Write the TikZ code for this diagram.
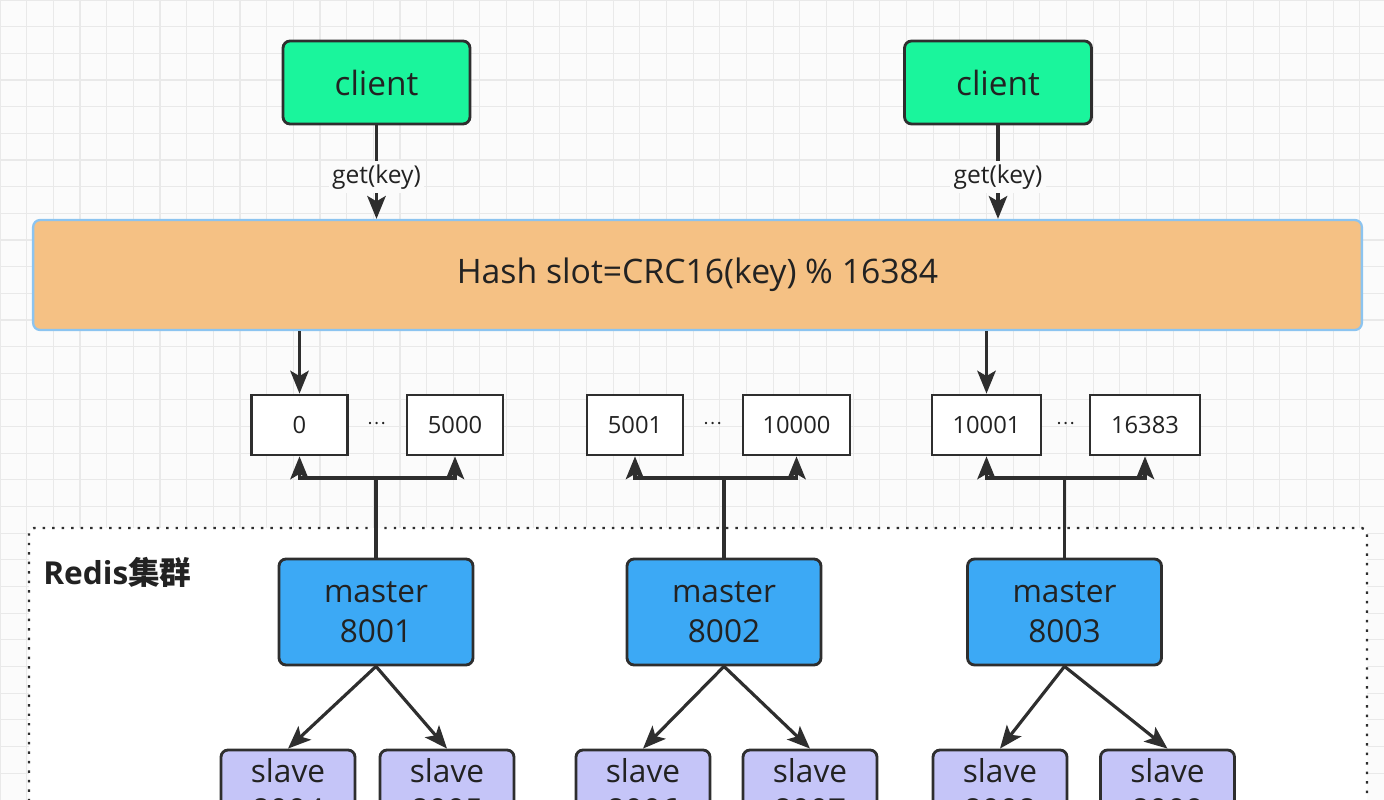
\documentclass[tikz,border=0pt]{standalone}
\usepackage{fontspec}
\setmainfont{Open Sans}
\newfontfamily\cjk{Noto Sans CJK SC}
\usetikzlibrary{arrows.meta}

\definecolor{gridgray}{HTML}{E9E9E9}
\definecolor{paper}{HTML}{FBFBFB}
\definecolor{linedark}{HTML}{2E2E2E}
\definecolor{textdark}{HTML}{222222}
\definecolor{clientgreen}{HTML}{1AF59C}
\definecolor{hashorange}{HTML}{F5C184}
\definecolor{hashborder}{HTML}{8CC4F0}
\definecolor{masterblue}{HTML}{3CA9F5}
\definecolor{slavelilac}{HTML}{C5C5F8}

\tikzset{
  box/.style={draw=linedark, line width=1.6pt, rounded corners=4pt, text=textdark, inner sep=0pt, align=center},
  clientbox/.style={box, fill=clientgreen, minimum width=3.74cm, minimum height=1.66cm, font=\fontsize{19}{23}\selectfont},
  hashbox/.style={box, draw=hashborder, line width=1.3pt, fill=hashorange, minimum width=26.58cm, minimum height=2.2cm, font=\fontsize{19.2}{23}\selectfont},
  slotbox/.style={box, rounded corners=0pt, fill=white, minimum width=1.92cm, minimum height=1.2cm, font=\fontsize{13.5}{16}\selectfont},
  masterbox/.style={box, fill=masterblue, minimum width=3.88cm, minimum height=2.12cm, font=\fontsize{18}{22.5}\selectfont},
  slavebox/.style={box, fill=slavelilac, minimum width=2.68cm, minimum height=1.6cm, font=\fontsize{18}{22.5}\selectfont},
  getlabel/.style={fill=paper, text=textdark, inner sep=2pt, pos=0.55, font=\fontsize{14}{16}\selectfont},
  dotslabel/.style={text=textdark, font=\fontsize{10}{12}\selectfont},
  arr/.style={-{Stealth[length=13pt, width=10.5pt, inset=3pt]}, line width=1.8pt, draw=linedark},
  link/.style={line width=1.8pt, draw=linedark}
}

\begin{document}
\begin{tikzpicture}[x=0.02cm, y=-0.02cm]
  \clip (0,0) rectangle (1384,800);
  \fill[paper] (0,0) rectangle (1384,800);
  \begin{scope}[x=1cm, y=1cm]
    \draw[gridgray, line width=0.6pt, step=0.5334cm] (0,-16) grid (27.68,0);
  \end{scope}

  % cluster frame
  \draw[fill=white, draw=linedark, line width=1.4pt, dash pattern=on 1.4pt off 4pt, rounded corners=3pt] (29,528) rectangle (1367,860);
  \node[anchor=west, text=textdark, inner sep=0pt, font=\fontsize{18}{21}\selectfont\bfseries] (cluster) at (43,572) {Redis{\cjk 集群}};

  % clients and hash
  \node[clientbox] (clientA) at (376.5,82.5) {client};
  \node[clientbox] (clientB) at (998,82.5) {client};
  \node[hashbox] (hash) at (697.5,275) {Hash slot=CRC16(key) \% 16384};

  \draw[arr] (clientA.south) -- node[getlabel] {get(key)} (clientA.south |- hash.north);
  \draw[arr] (clientB.south) -- node[getlabel] {get(key)} (clientB.south |- hash.north);

  % slot ranges
  \node[slotbox] (slotA) at (299.5,425) {0};
  \node[slotbox] (slotB) at (455,425) {5000};
  \node[slotbox] (slotC) at (635,425) {5001};
  \node[slotbox, minimum width=2.14cm] (slotD) at (796.5,425) {10000};
  \node[slotbox, minimum width=2.18cm] (slotE) at (986.5,425) {10001};
  \node[slotbox, minimum width=2.2cm] (slotF) at (1145,425) {16383};
  \node[dotslabel] (dotsA) at (377,424) {\cjk …};
  \node[dotslabel] (dotsB) at (713,424) {\cjk …};
  \node[dotslabel] (dotsC) at (1065.5,424) {\cjk …};

  \draw[arr] (slotA.north |- hash.south) -- (slotA.north);
  \draw[arr] (slotE.north |- hash.south) -- (slotE.north);

  % masters
  \node[masterbox] (masterA) at (376,612) {master\\8001};
  \node[masterbox] (masterB) at (724,612) {master\\8002};
  \node[masterbox] (masterC) at (1064.5,612) {master\\8003};

  \coordinate (forkA) at (376,478);
  \coordinate (forkB) at (724,478);
  \coordinate (forkC) at (1064.5,478);
  \draw[link] (masterA.north) -- (forkA);
  \draw[arr] (forkA) -| (slotA.south);
  \draw[arr] (forkA) -| (slotB.south);
  \draw[link] (masterB.north) -- (forkB);
  \draw[arr] (forkB) -| (slotC.south);
  \draw[arr] (forkB) -| (slotD.south);
  \draw[link] (masterC.north) -- (forkC);
  \draw[arr] (forkC) -| (slotE.south);
  \draw[arr] (forkC) -| (slotF.south);

  % slaves
  \node[slavebox] (slaveA) at (288,790) {slave\\8004};
  \node[slavebox] (slaveB) at (447,790) {slave\\8005};
  \node[slavebox] (slaveC) at (643,790) {slave\\8006};
  \node[slavebox] (slaveD) at (810,790) {slave\\8007};
  \node[slavebox] (slaveE) at (1000,790) {slave\\8008};
  \node[slavebox] (slaveF) at (1167.5,790) {slave\\8009};

  \draw[arr] (masterA.south) -- (slaveA.north);
  \draw[arr] (masterA.south) -- (slaveB.north);
  \draw[arr] (masterB.south) -- (slaveC.north);
  \draw[arr] (masterB.south) -- (slaveD.north);
  \draw[arr] (masterC.south) -- (slaveE.north);
  \draw[arr] (masterC.south) -- (slaveF.north);
\end{tikzpicture}
\end{document}
